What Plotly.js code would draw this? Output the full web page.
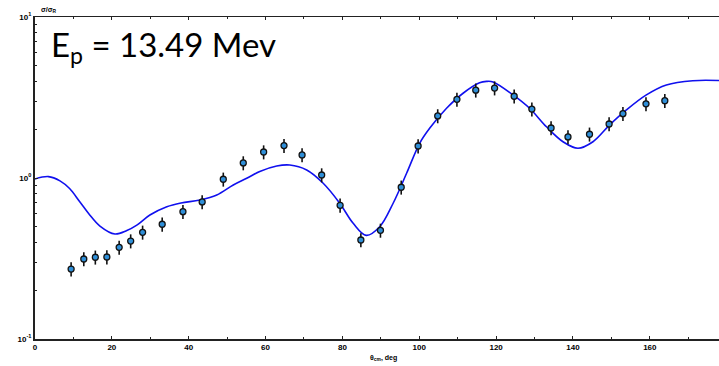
<!DOCTYPE html>
<html>
<head>
<meta charset="utf-8">
<script src="https://cdn.plot.ly/plotly-3.0.1.min.js"></script>
<style>html,body{margin:0;padding:0;background:#fff;}#chart{width:719px;height:366px;}</style>
</head>
<body>
<div id="chart"></div>
<script>
// Experimental data: angle (deg, c.m.) and ratio to Rutherford
const dataAngle = [9.4, 12.7, 15.7, 18.7, 21.9, 24.9, 28.0, 33.1, 38.5, 43.5, 49.0, 54.2, 59.5, 64.8, 69.5, 74.6, 79.4, 84.8, 89.9, 95.3, 99.7, 104.8, 109.8, 114.7, 119.6, 124.7, 129.3, 134.3, 138.7, 144.3, 149.4, 153.0, 159.0, 163.9];
const dataRatio = [0.272, 0.314, 0.322, 0.323, 0.371, 0.406, 0.460, 0.516, 0.618, 0.710, 0.982, 1.24, 1.45, 1.59, 1.39, 1.044, 0.677, 0.412, 0.473, 0.876, 1.58, 2.43, 3.08, 3.51, 3.62, 3.22, 2.68, 2.045, 1.80, 1.87, 2.165, 2.51, 2.89, 3.02];
const dataErrPct = 10;

// Calculated curve
const fitAngle = [0, 3.5, 6.5, 9.0, 11.5, 14.0, 16.9, 20.8, 23.9, 26.5, 29.9, 34.3, 38.0, 42.9, 47.3, 51.6, 55.1, 58.5, 62.9, 66.3, 70.7, 75.0, 79.3, 82.8, 86.2, 89.7, 93.2, 96.7, 100.1, 102.7, 107.1, 111.4, 115.7, 117.5, 119.2, 124.4, 128.7, 133.1, 137.4, 141.3, 145.2, 149.5, 153.9, 159.1, 164.3, 171.2, 178];
const fitRatio = [0.986, 1.02, 0.96, 0.86, 0.72, 0.60, 0.503, 0.449, 0.472, 0.51, 0.589, 0.663, 0.70, 0.73, 0.784, 0.905, 0.996, 1.098, 1.187, 1.204, 1.121, 0.927, 0.697, 0.523, 0.440, 0.498, 0.697, 1.07, 1.643, 2.036, 2.71, 3.36, 3.90, 3.98, 3.95, 3.28, 2.71, 2.08, 1.68, 1.53, 1.68, 2.13, 2.645, 3.28, 3.78, 4.02, 4.03];

const xTickVals = [0, 20, 40, 60, 80, 100, 120, 140, 160];
const yTickVals = [0.1, 1, 10];
const yTickText = ['10<sup>-1</sup>', '10<sup>0</sup>', '10<sup>1</sup>'];

const traces = [
  {
    x: fitAngle, y: fitRatio, type: 'scatter', mode: 'lines',
    line: {color: '#1010ee', width: 1.6, shape: 'spline', smoothing: 1},
    hoverinfo: 'skip'
  },
  {
    x: dataAngle, y: dataRatio, type: 'scatter', mode: 'markers',
    marker: {symbol: 'circle', size: 6, color: '#2f8fd8', line: {color: '#111', width: 1.3}},
    error_y: {type: 'percent', value: dataErrPct, symmetric: true, color: '#111', thickness: 1.6, width: 0}
  }
];

const tickFont = {family: 'Liberation Sans, Arial, sans-serif', size: 8, color: '#000', weight: 'bold'};

const layout = {
  width: 719, height: 366,
  margin: {l: 35, r: 0, t: 17, b: 27, pad: 0},
  paper_bgcolor: '#fff', plot_bgcolor: '#fff',
  showlegend: false,
  xaxis: {
    range: [0, 178], showgrid: false, zeroline: false,
    showline: true, linecolor: '#222', linewidth: 1.5, mirror: 'ticks',
    ticks: 'inside', ticklen: 3, tickwidth: 1, tickcolor: '#222',
    tickmode: 'array', tickvals: xTickVals,
    minor: {ticks: 'inside', ticklen: 2, dtick: 10, tickcolor: '#222', showgrid: false},
    tickfont: tickFont
  },
  yaxis: {
    type: 'log', range: [-1, 1], showgrid: false, zeroline: false,
    showline: true, linecolor: '#222', linewidth: 2, mirror: false,
    ticks: 'inside', ticklen: 3, tickwidth: 1, tickcolor: '#222',
    tickmode: 'array', tickvals: yTickVals, ticktext: yTickText,
    minor: {ticks: 'inside', ticklen: 2, tickvals: [0.2,0.3,0.4,0.5,0.6,0.7,0.8,0.9,2,3,4,5,6,7,8,9], tickcolor: '#222', showgrid: false},
    tickfont: tickFont
  },
  annotations: [
    {xref: 'paper', yref: 'paper', x: 0.02, y: 0.985, xanchor: 'left', yanchor: 'top', showarrow: false,
     text: 'E<sub>p</sub> = 13.49 Mev', font: {family: 'Lato, Open Sans, sans-serif', size: 33, color: '#000'}},
    {xref: 'paper', yref: 'paper', x: 0.0, y: 1.0, xanchor: 'left', yanchor: 'bottom', yshift: 1, xshift: 4, showarrow: false,
     text: 'σ/σ<sub>R</sub>', font: {family: 'Liberation Sans, Arial, sans-serif', size: 7, color: '#000', weight: 'bold'}},
    {xref: 'paper', yref: 'paper', x: 0.5, y: 0, xanchor: 'center', yanchor: 'top', yshift: -13, xshift: 6, showarrow: false,
     text: 'θ<sub>cm</sub>, deg', font: {family: 'Liberation Sans, Arial, sans-serif', size: 7, color: '#000', weight: 'bold'}}
  ]
};

Plotly.newPlot('chart', traces, layout, {displayModeBar: false, staticPlot: true});
</script>
</body>
</html>
